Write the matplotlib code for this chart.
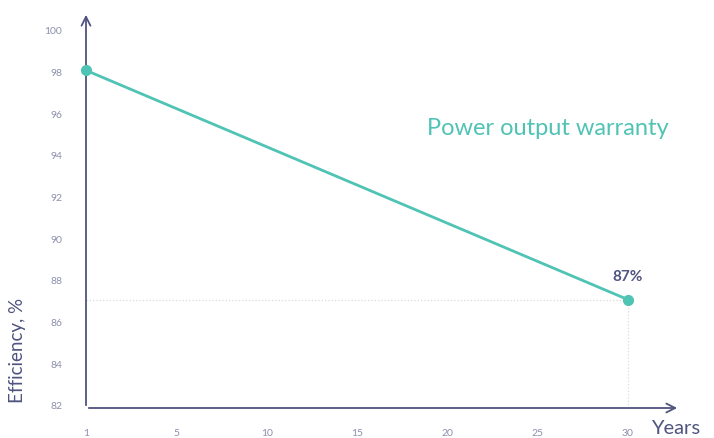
import matplotlib.pyplot as plt

years = ["1", "5", "10", "15", "20", "25", "30"]
yticks = [82, 84, 86, 88, 90, 92, 94, 96, 98, 100]
line_years = [0, 6]          # positions of year 1 and year 30 on the tick scale
efficiency = [98.1, 87.1]
end_label = "87%"

TEAL = "#4fc3b4"
AXIS = "#4f5480"
TICK = "#8c90ab"

plt.rcParams["font.family"] = ["Lato", "DejaVu Sans"]

fig = plt.figure(figsize=(7.14, 4.38), dpi=100)
ax = fig.add_axes([86 / 714, 30 / 438, (680 - 86) / 714, (408 - 12) / 438])

ax.set_xlim(0, 6.576)
ax.set_ylim(81.9, 100.9)

for s in ax.spines.values():
    s.set_visible(False)

# axis arrows
ax.annotate("", xy=(0, 1), xytext=(0, 0), xycoords="axes fraction",
            arrowprops=dict(arrowstyle="->", color=AXIS, lw=1.3, mutation_scale=16))
ax.annotate("", xy=(1, 0), xytext=(0, 0), xycoords="axes fraction",
            arrowprops=dict(arrowstyle="->", color=AXIS, lw=1.3, mutation_scale=16))

# dotted guides to the end point
ax.plot([0, line_years[1]], [efficiency[1], efficiency[1]], ls=":", color="#d8dae3", lw=0.9)
ax.plot([line_years[1], line_years[1]], [81.9, efficiency[1]], ls=":", color="#d8dae3", lw=0.9)

ax.plot(line_years, efficiency, color=TEAL, lw=2, marker="o", markersize=7, clip_on=False, zorder=5)

ax.text(line_years[1], efficiency[1] + 0.75, end_label, ha="center", va="bottom",
        fontsize=11, fontweight="bold", color=AXIS)
ax.text(0.574, 0.705, "Power output warranty", transform=ax.transAxes,
        fontsize=17, color=TEAL, ha="left", va="center")

ax.set_xticks(range(len(years)))
ax.set_xticklabels(years)
ax.set_yticks(yticks)
ax.tick_params(axis="both", length=0, labelsize=7.5, labelcolor=TICK)
ax.tick_params(axis="x", pad=15)
ax.tick_params(axis="y", pad=17)

fig.text(18 / 714, 1 - 350 / 438, "Efficiency, %", rotation=90, ha="center", va="center",
         fontsize=13.5, color=AXIS)
fig.text(676 / 714, 1 - 428 / 438, "Years", ha="center", va="center",
         fontsize=14.5, color=AXIS)

fig.savefig("out.png", dpi=100)
